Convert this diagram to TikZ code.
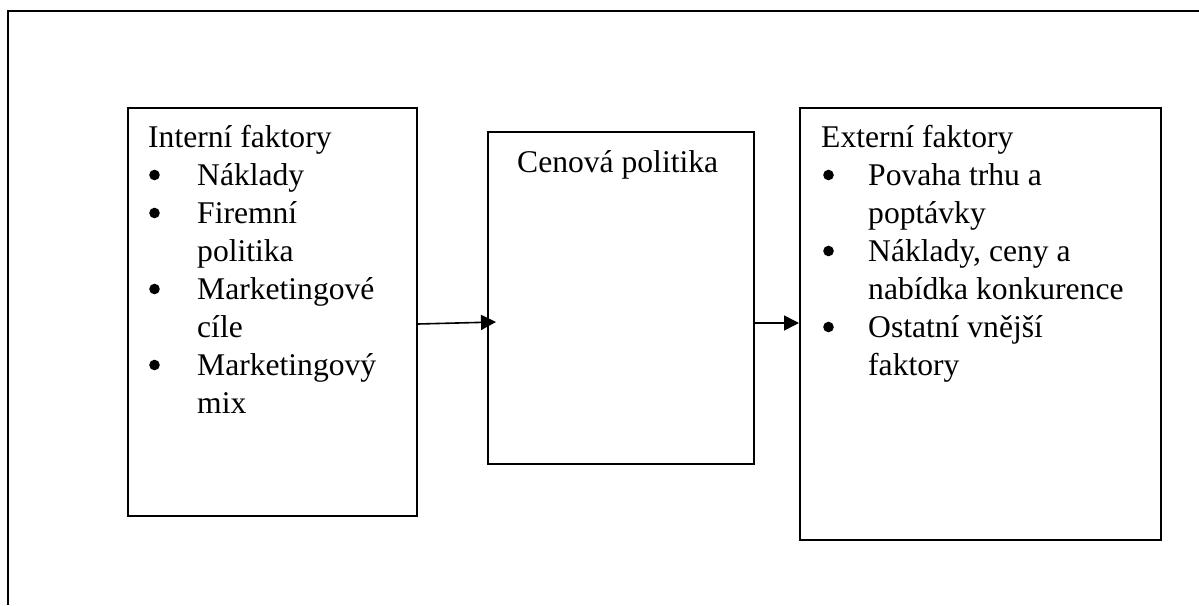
\documentclass[tikz,border=0pt]{standalone}
\usepackage{fontspec}
\setmainfont{Liberation Serif}
\usetikzlibrary{arrows.meta}
% round list marker, centred about 10pt above the baseline
\newcommand{\dotmark}{\tikz[baseline=-10pt]\fill (0,0) circle (5.3pt);}
\newcommand{\itm}{\makebox[49pt][l]{\hspace{1pt}\dotmark}}
\begin{document}
\begin{tikzpicture}[x=1pt,y=-1pt,
  frame/.style={line width=2.2pt},
  panel/.style={draw,line width=2pt,rectangle,inner sep=0pt,anchor=north west},
  label/.style={anchor=base west,inner sep=0pt,font=\fontsize{31.6}{38}\selectfont},
  link/.style={line width=1.6pt,-{Triangle[length=15pt,width=15pt]}}]
  \useasboundingbox (0,0) rectangle (1199,605);
  % outer frame (continues past the page edges)
  \draw[frame] (8,605) -- (8,11) -- (1199,11);
  % the three panels
  \node[panel,minimum width=289pt,minimum height=408pt] (intern) at (127,107) {};
  \node[panel,minimum width=266pt,minimum height=332pt] (cena) at (487,131) {};
  \node[panel,minimum width=361pt,minimum height=432pt] (extern) at (799,107) {};
  % panel texts
  \node[label] (interntxt) at (148,147) {\begin{tabular}[t]{@{}l@{}l@{}}
    \multicolumn{2}{@{}l@{}}{Interní faktory}\\
    \itm & Náklady\\
    \itm & Firemní\\
         & politika\\
    \itm & Marketingové\\
         & cíle\\
    \itm & Marketingový\\
         & mix
  \end{tabular}};
  \node[label] (cenatxt) at (517,172) {Cenová politika};
  \node[label] (externtxt) at (821,147) {\renewcommand{\itm}{\makebox[47pt][l]{\hspace{2pt}\dotmark}}\begin{tabular}[t]{@{}l@{}l@{}}
    \multicolumn{2}{@{}l@{}}{Externí faktory}\\
    \itm & Povaha trhu a\\
         & poptávky\\
    \itm & Náklady, ceny a\\
         & nabídka konkurence\\
    \itm & Ostatní vnější\\
         & faktory
  \end{tabular}};
  % connectors
  \coordinate (cenain) at (496,322);
  \draw[link] (intern.east |- 0,324) -- (cenain);
  \draw[link] (cena.east |- 0,323) -- (extern.west |- 0,323);
\end{tikzpicture}
\end{document}
